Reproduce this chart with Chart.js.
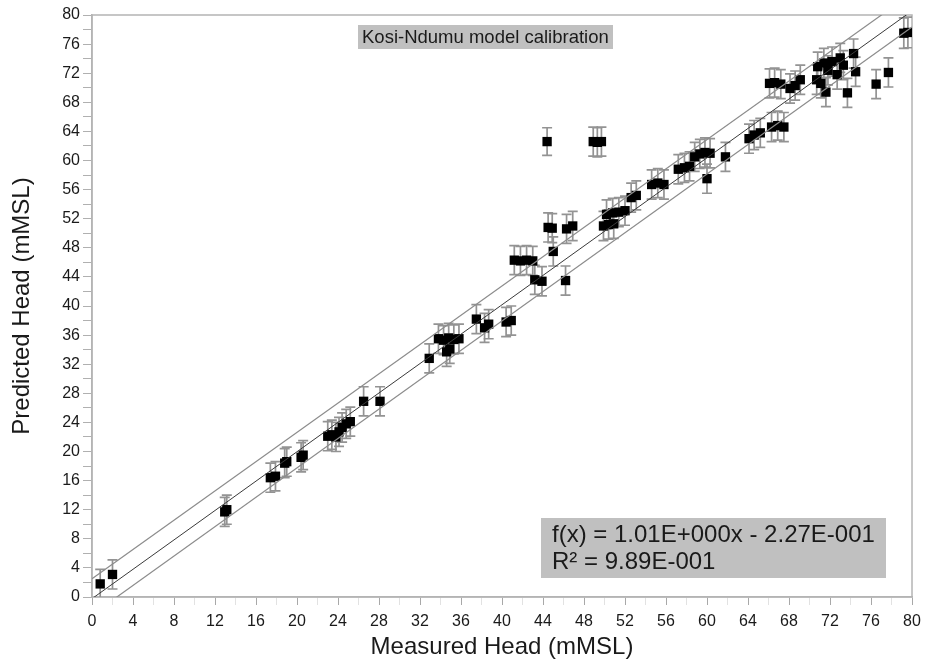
<!DOCTYPE html>
<html>
<head>
<meta charset="utf-8">
<script src="https://cdn.jsdelivr.net/npm/chart.js@4.4.1/dist/chart.umd.min.js"></script>
<style>
  html, body { margin: 0; padding: 0; background: #ffffff; }
  #wrap { width: 931px; height: 666px; position: relative; }
</style>
</head>
<body>
<div id="wrap"><canvas id="c" width="931" height="666"></canvas></div>
<script>
// ---- data ----
const measured = [
  0.8, 2.0, 12.95, 13.15, 17.4, 17.9, 18.8, 19.0, 20.4, 20.6,
  23.0, 23.4, 23.8, 24.1, 24.4, 24.8, 25.2, 26.5, 28.1, 32.9,
  33.8, 34.3, 34.8, 35.3, 35.8, 34.6, 34.9, 37.5, 38.3, 38.7,
  40.4, 40.9, 41.2, 41.8, 42.4, 43.0, 43.2, 43.9, 44.4, 44.5,
  44.9, 45.0, 46.2, 46.3, 46.9, 48.9, 49.3, 49.7, 49.9, 50.4,
  50.9, 50.2, 50.8, 51.4, 52.0, 52.6, 53.1, 54.6, 55.2, 55.8,
  57.2, 57.8, 58.3, 58.8, 59.3, 59.8, 60.3, 60.0, 61.8, 64.1,
  64.6, 65.2, 66.3, 66.9, 67.5, 66.1, 66.6, 67.2, 68.1, 68.6,
  69.1, 70.7, 70.8, 71.1, 71.4, 71.6, 71.8, 72.2, 72.7, 73.0,
  73.3, 73.7, 74.3, 74.5, 76.5, 77.7, 79.2, 79.6
];
const predicted = [
  1.8, 3.1, 11.7, 12.0, 16.4, 16.6, 18.4, 18.6, 19.2, 19.5,
  22.1, 22.3, 22.0, 22.7, 23.3, 23.8, 24.1, 26.9, 26.9, 32.8,
  35.5, 35.3, 35.6, 35.4, 35.5, 33.7, 34.1, 38.2, 37.0, 37.5,
  37.8, 38.0, 46.3, 46.2, 46.3, 46.2, 43.6, 43.4, 62.6, 50.8,
  50.7, 47.5, 43.5, 50.6, 51.0, 62.6, 62.5, 62.6, 51.0, 51.2,
  51.3, 52.6, 52.8, 52.9, 53.1, 54.9, 55.2, 56.7, 56.9, 56.7,
  58.8, 59.0, 59.2, 60.5, 60.9, 61.1, 61.0, 57.5, 60.5, 63.0,
  63.5, 63.8, 64.6, 64.8, 64.6, 70.6, 70.7, 70.5, 69.9, 70.3,
  71.1, 71.1, 72.9, 70.6, 73.4, 69.4, 72.4, 73.6, 71.8, 74.1,
  73.1, 69.3, 74.7, 72.2, 70.5, 72.1, 77.5, 77.6
];
const predErr = [
  2.0, 2.0, 2.0, 2.0, 2.0, 2.0, 2.0, 2.0, 2.0, 2.0,
  2.0, 2.0, 2.0, 2.0, 2.0, 2.0, 2.0, 2.0, 2.0, 2.0,
  2.0, 2.0, 2.0, 2.0, 2.0, 2.0, 2.0, 2.0, 2.0, 2.0,
  2.0, 2.0, 2.0, 2.0, 2.0, 2.0, 2.0, 2.0, 1.9, 2.0,
  2.0, 2.0, 2.0, 2.0, 2.0, 2.0, 2.0, 2.0, 2.0, 2.0,
  2.0, 2.0, 2.0, 2.0, 2.0, 2.0, 2.0, 2.0, 2.0, 2.0,
  2.0, 2.0, 2.0, 2.0, 2.0, 2.0, 2.0, 2.0, 2.0, 2.0,
  2.0, 2.0, 2.0, 2.0, 2.0, 2.0, 2.0, 2.0, 2.0, 2.0,
  2.0, 2.0, 2.0, 2.0, 2.0, 2.0, 2.0, 2.0, 2.0, 2.0,
  2.0, 2.0, 2.0, 2.0, 2.0, 2.0, 2.1, 2.1
];
// fitted line and band end points (x, y)
const fitX = [0, 80];
const fitY = [-0.23, 80.57];
const upperY = [2.5, 83.0];
const lowerY = [-2.45, 78.35];
// axis ticks
const tickMin = 0, tickMax = 80, tickStep = 2, labelEvery = 4;

const titleText = 'Kosi-Ndumu model calibration';
const formulaLines = ['f(x) = 1.01E+000x - 2.27E-001', 'R\u00B2 = 9.89E-001'];
const xTitle = 'Measured Head (mMSL)';
const yTitle = 'Predicted Head (mMSL)';

// ---- build ----
const pts = measured.map((m, i) => ({ x: m, y: predicted[i] }));
const mkLine = (ys) => fitX.map((x, i) => ({ x, y: ys[i] }));

const FONT = "'Liberation Sans', Arial, sans-serif";

const errorBars = {
  id: 'errorBars',
  beforeDatasetsDraw(chart) {
    const { ctx, chartArea: a, scales: { x, y } } = chart;
    ctx.save();
    ctx.beginPath();
    ctx.rect(a.left, a.top, a.right - a.left, a.bottom - a.top);
    ctx.clip();
    ctx.strokeStyle = '#939393';
    ctx.lineWidth = 1.7;
    const cap = 5;
    measured.forEach((m, i) => {
      const px = x.getPixelForValue(m);
      const t = y.getPixelForValue(predicted[i] + predErr[i]);
      const b = y.getPixelForValue(predicted[i] - predErr[i]);
      ctx.beginPath();
      ctx.moveTo(px, t); ctx.lineTo(px, b);
      ctx.moveTo(px - cap, t); ctx.lineTo(px + cap, t);
      ctx.moveTo(px - cap, b); ctx.lineTo(px + cap, b);
      ctx.stroke();
    });
    ctx.restore();
  }
};

const frame = {
  id: 'frame',
  beforeDatasetsDraw(chart) {
    const { ctx, chartArea: a } = chart;
    ctx.save();
    ctx.strokeStyle = '#b4b4b4';
    ctx.lineWidth = 1.5;
    ctx.strokeRect(a.left, a.top, a.right - a.left, a.bottom - a.top);
    ctx.restore();
  }
};

const notes = {
  id: 'notes',
  afterDatasetsDraw(chart) {
    const { ctx } = chart;
    ctx.save();
    // title box
    ctx.fillStyle = '#c0c0c0';
    ctx.fillRect(358, 25, 255, 24);
    ctx.fillStyle = '#1a1a1a';
    ctx.font = '18.5px ' + FONT;
    ctx.textBaseline = 'middle';
    ctx.textAlign = 'left';
    ctx.fillText(titleText, 362, 37.5);
    // formula box
    ctx.fillStyle = '#c0c0c0';
    ctx.fillRect(541, 518, 345, 60);
    ctx.fillStyle = '#1a1a1a';
    ctx.font = '24px ' + FONT;
    ctx.fillText(formulaLines[0], 552, 535);
    ctx.fillText(formulaLines[1], 552, 562);
    ctx.restore();
  }
};

const tickCb = (v) => (v % labelEvery === 0 ? String(v) : '');

new Chart(document.getElementById('c'), {
  type: 'scatter',
  data: {
    datasets: [
      { type: 'line', data: mkLine(fitY), borderColor: '#3a3a3a', borderWidth: 1, pointRadius: 0, fill: false, order: 0 },
      { type: 'line', data: mkLine(upperY), borderColor: '#8c8c8c', borderWidth: 1.2, pointRadius: 0, fill: false, order: 0 },
      { type: 'line', data: mkLine(lowerY), borderColor: '#8c8c8c', borderWidth: 1.2, pointRadius: 0, fill: false, order: 0 },
      { data: pts, pointStyle: 'rect', pointRadius: 6.6, backgroundColor: '#000000', borderColor: '#000000', borderWidth: 0, order: 1 }
    ]
  },
  options: {
    responsive: false,
    animation: false,
    devicePixelRatio: 1,
    layout: { padding: { left: 0, top: 15, right: 19, bottom: 0 } },
    plugins: { legend: { display: false }, tooltip: { enabled: false } },
    scales: {
      x: {
        type: 'linear', min: tickMin, max: tickMax,
        afterFit: (s) => { s.height = 69; },
        border: { display: true, color: '#b4b4b4', width: 1.5 },
        grid: { drawOnChartArea: false, tickLength: 8,
                tickColor: (c) => (c.tick && c.tick.value % labelEvery === 0 ? '#a8a8a8' : '#e2e2e2') },
        ticks: { stepSize: tickStep, autoSkip: false, maxRotation: 0, callback: tickCb,
                 color: '#1a1a1a', font: { family: FONT, size: 16 }, padding: 7 },
        title: { display: true, text: xTitle, color: '#1a1a1a',
                 font: { family: FONT, size: 24 }, padding: { top: 0, bottom: 4 } }
      },
      y: {
        type: 'linear', min: tickMin, max: tickMax,
        afterFit: (s) => { s.width = 92; },
        border: { display: true, color: '#b4b4b4', width: 1.5 },
        grid: { drawOnChartArea: false, tickLength: 9, tickColor: '#b0b0b0' },
        ticks: { stepSize: tickStep, autoSkip: false, callback: tickCb,
                 color: '#1a1a1a', font: { family: FONT, size: 16 }, padding: 3 },
        title: { display: true, text: yTitle, color: '#1a1a1a',
                 font: { family: FONT, size: 24 }, padding: { top: 8, bottom: 0 } }
      }
    }
  },
  plugins: [frame, errorBars, notes]
});
</script>
</body>
</html>
